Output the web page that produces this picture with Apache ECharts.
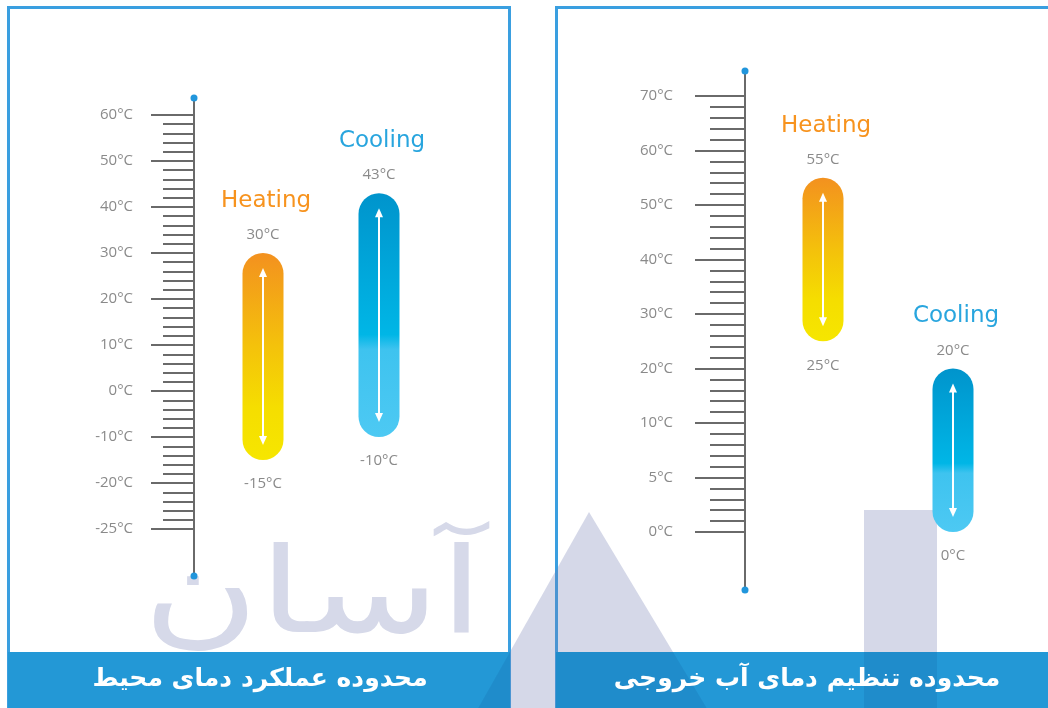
<!DOCTYPE html>
<html><head><meta charset="utf-8">
<script src="https://cdn.jsdelivr.net/npm/echarts@6/dist/echarts.min.js"></script>
<style>html,body{margin:0;padding:0;background:#fff}#c{width:1048px;height:708px}</style>
</head><body><div id="c"></div>
<script>
// ---- data ----
const modes = ['Heating', 'Cooling'];
const ambientTicks = [-25, -20, -10, 0, 10, 20, 30, 40, 50, 60];
const ambientLow = [-15, -10];
const ambientHigh = [30, 43];
const waterTicks = [0, 5, 10, 20, 30, 40, 50, 60, 70];
const waterLow = [25, 0];
const waterHigh = [55, 20];
const panelTitles = ['محدوده عملکرد دمای محیط', 'محدوده تنظیم دمای آب خروجی'];
const watermarkText = 'آسان';

// ---- piecewise scale helper (labelled ticks are equally spaced) ----
function toPos(v, ticks) {
  for (let i = 0; i < ticks.length - 1; i++) {
    if (v <= ticks[i + 1]) return i + (v - ticks[i]) / (ticks[i + 1] - ticks[i]);
  }
  return ticks.length - 1;
}
function majorVals(ticks) { return ticks.map((t, i) => i); }
function minorVals(ticks) {
  const out = [];
  for (let i = 0; i < ticks.length - 1; i++) for (let k = 1; k < 5; k++) out.push(i + k / 5);
  return out;
}

const GRAY = '#6a6a6a';
const LABEL = '#8a8a8a';
const heatGrad = () => new echarts.graphic.LinearGradient(0, 0, 0, 1, [
  { offset: 0, color: '#f3911f' }, { offset: 0.45, color: '#f4c20b' },
  { offset: 0.75, color: '#f5de00' }, { offset: 1, color: '#f6e600' }]);
const coolGrad = () => new echarts.graphic.LinearGradient(0, 0, 0, 1, [
  { offset: 0, color: '#0094cc' }, { offset: 0.58, color: '#00b6e6' },
  { offset: 0.64, color: '#3ec3ef' }, { offset: 1, color: '#4dc9f3' }]);
const titleColors = ['#f7931e', '#28a5de'];

function axisPair(gridIndex, ticks, min, max, offset, majLen, minLen, margin) {
  return [
    {
      type: 'value', gridIndex, position: 'left', offset, min, max,
      axisLine: { show: true, onZero: false, lineStyle: { color: GRAY, width: 2 } },
      axisTick: { show: true, customValues: majorVals(ticks), length: majLen, lineStyle: { color: GRAY, width: 2 } },
      axisLabel: {
        show: true, customValues: majorVals(ticks), margin,
        formatter: v => ticks[Math.round(v)] + '°C',
        color: LABEL, fontSize: 15, fontFamily: 'Open Sans'
      },
      splitLine: { show: false }
    },
    {
      type: 'value', gridIndex, position: 'left', offset, min, max,
      axisLine: { show: true, onZero: false, symbol: ['circle', 'circle'], symbolSize: [7, 7],
        lineStyle: { color: '#2196dc', width: 0 } },
      axisTick: { show: true, customValues: minorVals(ticks), length: minLen, lineStyle: { color: GRAY, width: 2 } },
      axisLabel: { show: false },
      splitLine: { show: false }
    }
  ];
}

function capsuleSeries(idx, ticks, low, high) {
  return {
    type: 'custom', xAxisIndex: idx, yAxisIndex: idx * 2, z: 5,
    data: modes.map((m, i) => [i, toPos(low[i], ticks), toPos(high[i], ticks), low[i], high[i]]),
    encode: { x: 0, y: [1, 2] },
    renderItem: function (params, api) {
      const i = params.dataIndex;
      const b = api.coord([api.value(0), api.value(1)]);
      const t = api.coord([api.value(0), api.value(2)]);
      const w = 41, cx = b[0];
      const h = b[1] - t[1];
      const aTop = t[1] + 15, aBot = b[1] - 15;
      return {
        type: 'group', children: [
          { type: 'rect', shape: { x: cx - w / 2, y: t[1], width: w, height: h, r: w / 2 },
            style: { fill: i === 0 ? heatGrad() : coolGrad() } },
          { type: 'line', shape: { x1: cx, y1: aTop + 6, x2: cx, y2: aBot - 6 }, style: { stroke: '#fff', lineWidth: 2 } },
          { type: 'polygon', shape: { points: [[cx, aTop], [cx - 4, aTop + 9], [cx + 4, aTop + 9]] }, style: { fill: '#fff' } },
          { type: 'polygon', shape: { points: [[cx, aBot], [cx - 4, aBot - 9], [cx + 4, aBot - 9]] }, style: { fill: '#fff' } },
          { type: 'text', x: cx, y: t[1] - 18, style: { text: api.value(4) + '°C', fill: LABEL, fontSize: 15,
              fontFamily: 'Open Sans', align: 'center', verticalAlign: 'middle' } },
          { type: 'text', x: cx, y: b[1] + 24, style: { text: api.value(3) + '°C', fill: LABEL, fontSize: 15,
              fontFamily: 'Open Sans', align: 'center', verticalAlign: 'middle' } },
          { type: 'text', x: cx + 3, y: t[1] - 52, style: { text: modes[i], fill: titleColors[i], fontSize: 23,
              fontFamily: 'DejaVu Sans', align: 'center', verticalAlign: 'middle' } }
        ]
      };
    }
  };
}

const FRAME = '#3a9fe0', BANNER = '#2398d6', WM = 'rgba(115,125,178,0.3)', WMDARK = 'rgba(0,40,110,0.10)';
const chart = echarts.init(document.getElementById('c'), null, { renderer: 'canvas' });
chart.setOption({
  animation: false,
  backgroundColor: '#fff',
  grid: [
    { left: 205, width: 232, top: 98, height: 478 },
    { left: 758, width: 260, top: 71, height: 519 }
  ],
  xAxis: [
    { type: 'category', gridIndex: 0, data: modes, show: false },
    { type: 'category', gridIndex: 1, data: modes, show: false }
  ],
  yAxis: [
    ...axisPair(0, ambientTicks, -1.02, 9.37, 11, 43, 31, 61),
    ...axisPair(1, waterTicks, -1.064, 8.459, 13, 50, 35, 72)
  ],
  series: [
    capsuleSeries(0, ambientTicks, ambientLow, ambientHigh),
    capsuleSeries(1, waterTicks, waterLow, waterHigh)
  ],
  graphic: [
    { type: 'rect', z: 0, shape: { x: 8.5, y: 7.5, width: 501, height: 720 }, style: { fill: '#fff', stroke: FRAME, lineWidth: 3 } },
    { type: 'rect', z: 0, shape: { x: 556.5, y: 7.5, width: 520, height: 720 }, style: { fill: '#fff', stroke: FRAME, lineWidth: 3 } },
    { type: 'text', z: 0, x: 313, y: 601, scaleX: 0.93, scaleY: 0.7,
      style: { text: watermarkText, fill: '#d6d9e9', stroke: '#fff', lineWidth: 8, fontSize: 170,
        fontFamily: 'DejaVu Sans', align: 'center', verticalAlign: 'middle' } },
    { type: 'polygon', z: 0, shape: { points: [[589, 512], [476, 712], [709, 712]] }, style: { fill: WM } },
    { type: 'rect', z: 0, shape: { x: 864, y: 510, width: 73, height: 200 }, style: { fill: WM } },
    { type: 'rect', z: 0, shape: { x: 8, y: 652, width: 502, height: 60 }, style: { fill: BANNER } },
    { type: 'rect', z: 0, shape: { x: 556, y: 652, width: 500, height: 60 }, style: { fill: BANNER } },
    { type: 'polygon', z: 0, shape: { points: [[510, 652], [510, 712], [476, 712]] }, style: { fill: WMDARK } },
    { type: 'polygon', z: 0, shape: { points: [[556, 652], [673, 652], [709, 712], [556, 712]] }, style: { fill: WMDARK } },
    { type: 'rect', z: 0, shape: { x: 864, y: 652, width: 73, height: 60 }, style: { fill: WMDARK } },
    { type: 'text', z: 1, x: 260, y: 679, style: { text: panelTitles[0], fill: '#fff', fontSize: 25, fontWeight: 'bold',
        fontFamily: 'DejaVu Sans', align: 'center', verticalAlign: 'middle' } },
    { type: 'text', z: 1, x: 807, y: 679, style: { text: panelTitles[1], fill: '#fff', fontSize: 25, fontWeight: 'bold',
        fontFamily: 'DejaVu Sans', align: 'center', verticalAlign: 'middle' } }
  ]
});
</script></body></html>
